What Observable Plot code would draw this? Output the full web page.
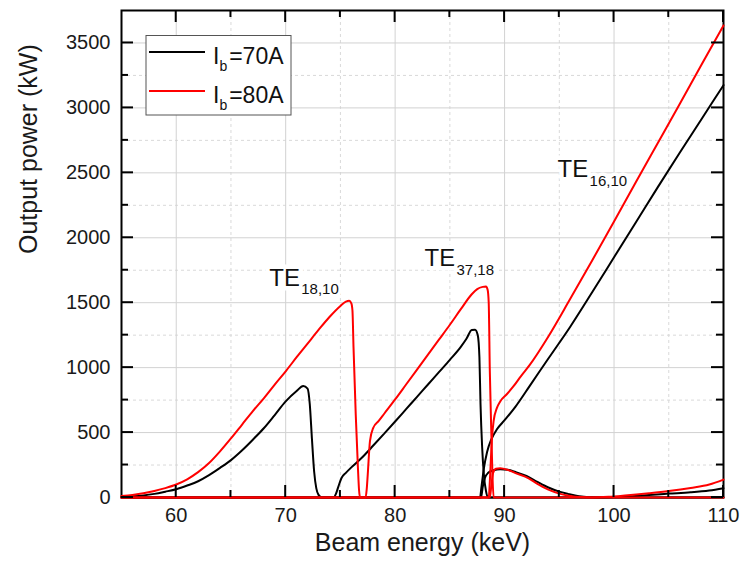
<!DOCTYPE html>
<html>
<head>
<meta charset="utf-8">
<script src="https://cdn.jsdelivr.net/npm/d3@7"></script>
<script src="https://cdn.jsdelivr.net/npm/@observablehq/plot@0.6"></script>
<style>
  html, body { margin: 0; padding: 0; background: #fff; }
  #chart { width: 740px; height: 566px; }
  svg { font-family: "Liberation Sans", Arial, sans-serif; }
</style>
</head>
<body>
<div id="chart"></div>
<script>
// ---------- data ----------
// Ib = 70 A : TE18,10 -> TE37,18 branch
const e70Main = [55,56,57,58,59,60,61,62,63,64,65,66,67,68,69,70,71,71.6,72.0,72.2,72.4,72.6,72.8,73.0,73.3,74.4,74.6,74.8,75.1,75.5,76,77,78,79,80,81,82,83,84,85,86,86.5,87.0,87.3,87.55,87.7,87.8,87.95,88.1,88.3,88.5,110];
const p70Main = [5,9,16,28,45,64,92,125,172,228,288,362,445,533,635,740,820,858,838,720,450,200,70,20,0,0,30,80,150,190,232,310,400,492,585,680,775,870,965,1060,1160,1220,1290,1292,1250,1080,720,387,183,50,0,0];
// Ib = 70 A : TE16,10 branch
const e70TE16 = [55,87.75,87.9,88.1,88.4,88.8,89.3,90,91,92.3,94,96,98,100,102,104,106,108,110];
const p70TE16 = [0,0,90,220,350,450,525,595,700,860,1070,1315,1580,1850,2120,2390,2655,2915,3175];
// Ib = 70 A : low-power branch after 88 keV
const e70Low = [55,87.85,88.0,88.2,88.5,89.0,89.6,90.3,91,92,93,94,95,95.8,96.8,97.7,98.5,100,102,103.2,105,107,108.7,110];
const p70Low = [0,0,80,150,190,210,218,213,196,166,120,77,45,28,10,2,0,3,12,20,30,40,54,72];

// Ib = 80 A : TE18,10 -> TE37,18 branch
const e80Main = [55,56,57,58,59,60,61,62,63,64,65,66,67,68,69,70,71,72,73,74,75,75.5,75.8,76.0,76.1,76.2,76.4,76.6,76.7,76.8,77.3,77.4,77.5,77.7,78.0,78.5,79,80,81,82,83,84,85,86,87,87.5,88.0,88.3,88.45,88.55,88.65,88.8,88.9,89.0,110];
const p80Main = [12,20,32,50,72,100,140,195,265,355,455,560,665,764,870,972,1080,1185,1290,1390,1475,1508,1515,1495,1440,1150,640,230,60,0,0,60,180,435,537,590,645,755,870,985,1100,1215,1330,1450,1565,1605,1622,1625,1600,1500,975,460,150,0,0];
// Ib = 80 A : TE16,10 branch
const e80TE16 = [55,88.55,88.65,88.75,88.85,89.0,89.3,89.6,90.2,90.8,91.5,92.3,94,96,98,100,102,104,106,108,110];
const p80TE16 = [0,0,120,300,460,590,690,740,795,855,935,1021,1240,1530,1825,2125,2430,2730,3030,3335,3635];
// Ib = 80 A : low-power branch after 88 keV
const e80Low = [55,88.65,88.8,88.95,89.2,89.6,90.3,91,92.2,93,94,95,96,97,98,99.5,101,103.2,105,107,108.7,110];
const p80Low = [0,0,100,190,222,225,212,188,148,105,60,30,12,3,0,5,15,33,50,74,100,138];

// axes
const xDomain = [55, 110];
const yDomain = [0, 3750];
const xMajor = [60, 70, 80, 90, 100, 110];
const xMinor = [65, 75, 85, 95, 105];
const yMajor = [0, 500, 1000, 1500, 2000, 2500, 3000, 3500];
const yMinor = [250, 750, 1250, 1750, 2250, 2750, 3250];
const xTitle = "Beam energy (keV)";
const yTitle = "Output power (kW)";

// legend
const legendMain = ["I", "I"];
const legendSub = ["b", "b"];
const legendRest = ["=70A", "=80A"];
const seriesKeys = ["70A", "80A"];

// mode annotations
const modeNames = ["TE", "TE", "TE"];
const modeSubs = ["18,10", "37,18", "16,10"];
const modeE = [68.5, 82.68, 94.84];
const modeP = [1632, 1779, 2466];

// ---------- build tables ----------
const curves = [
  {id: "70-main", current: "70A", E: e70Main, P: p70Main},
  {id: "70-te16", current: "70A", E: e70TE16, P: p70TE16},
  {id: "70-low", current: "70A", E: e70Low, P: p70Low},
  {id: "80-main", current: "80A", E: e80Main, P: p80Main},
  {id: "80-te16", current: "80A", E: e80TE16, P: p80TE16},
  {id: "80-low", current: "80A", E: e80Low, P: p80Low}
];
const rows = curves.flatMap(c => c.E.map((e, i) => ({E: e, P: c.P[i], id: c.id, current: c.current})));
const modes = modeNames.map((m, i) => ({name: m, sub: modeSubs[i], E: modeE[i], P: modeP[i]}));

// ---------- layout ----------
const W = 740, H = 566;
const mL = 121, mR = 17, mT = 10, mB = 69;
const majorLen = 12, minorLen = 7;
const font = "'Liberation Sans', Arial, sans-serif";
const colors = {"70A": "#000000", "80A": "#ff0000"};

const plot = Plot.plot({
  width: W, height: H,
  marginLeft: mL, marginRight: mR, marginTop: mT, marginBottom: mB,
  style: {fontFamily: font, background: "white"},
  x: {domain: xDomain},
  y: {domain: yDomain},
  marks: [
    // grid
    Plot.ruleX(xMinor, {stroke: "#d9d9d9", strokeWidth: 1, strokeDasharray: "3,3"}),
    Plot.ruleY(yMinor, {stroke: "#d9d9d9", strokeWidth: 1, strokeDasharray: "3,3"}),
    Plot.ruleX(xMajor.filter(v => v < xDomain[1]), {stroke: "#d2d2d2", strokeWidth: 1}),
    Plot.ruleY(yMajor.filter(v => v > yDomain[0]), {stroke: "#d2d2d2", strokeWidth: 1}),
    // frame
    Plot.frame({stroke: "black", strokeWidth: 2}),
    // tick labels
    Plot.axisX({ticks: xMajor, tickSize: 0, tickPadding: 10, fontSize: 20, label: null, tickFormat: d => `${d}`, fill: "#1a1a1a"}),
    Plot.axisY({ticks: yMajor, tickSize: 0, tickPadding: 11, fontSize: 20, label: null, tickFormat: d => `${d}`, fill: "#1a1a1a"}),
    // axis titles
    Plot.text([xTitle], {text: d => d, frameAnchor: "bottom", dy: 53, fontSize: 25, fill: "#1a1a1a"}),
    Plot.text([yTitle], {text: d => d, frameAnchor: "left", dx: -93, rotate: -90, fontSize: 25, fill: "#1a1a1a"}),
    // curves
    Plot.line(rows.filter(d => d.current === "70A"), {x: "E", y: "P", z: "id", stroke: colors["70A"], strokeWidth: 2, curve: "monotone-x"}),
    Plot.line(rows.filter(d => d.current === "80A"), {x: "E", y: "P", z: "id", stroke: colors["80A"], strokeWidth: 2, curve: "monotone-x"}),
    // mode annotations (white halo like the label boxes)
    Plot.text(modes, {x: "E", y: "P", text: "name", textAnchor: "start", lineAnchor: "bottom", fontSize: 24, fill: "#111", stroke: "white", strokeWidth: 9, strokeLinejoin: "round", paintOrder: "stroke"}),
    Plot.text(modes, {x: "E", y: "P", text: "sub", textAnchor: "start", lineAnchor: "bottom", dx: 32, dy: 8.5, fontSize: 15, fill: "#111", stroke: "white", strokeWidth: 7, strokeLinejoin: "round", paintOrder: "stroke"})
  ]
});

const svg = d3.select(plot);

// ---------- inward ticks on all four sides, placed with Plot's own scales ----------
const sx = plot.scale("x"), sy = plot.scale("y");
const x0 = sx.apply(xDomain[0]), x1 = sx.apply(xDomain[1]);
const y0 = sy.apply(yDomain[0]), y1 = sy.apply(yDomain[1]);
const tg = svg.append("g").attr("class", "ticks");
const xTicks = xMajor.map(v => [v, majorLen]).concat(xMinor.map(v => [v, minorLen]));
const yTicks = yMajor.map(v => [v, majorLen]).concat(yMinor.map(v => [v, minorLen]));
function tick(xa, ya, xb, yb) {
  tg.append("path").attr("d", `M${xa},${ya}L${xb},${yb}`)
    .attr("fill", "none").attr("stroke", "#000").attr("stroke-width", 2);
}
xTicks.forEach(([v, len]) => {
  const px = sx.apply(v);
  tick(px, y0, px, y0 - len);
  tick(px, y1, px, y1 + len);
});
yTicks.forEach(([v, len]) => {
  const py = sy.apply(v);
  tick(x0, py, x0 + len, py);
  tick(x1, py, x1 - len, py);
});

// ---------- legend ----------
const lg = svg.append("g").attr("class", "legend").attr("text-anchor", "start");
lg.append("rect")
  .attr("x", 146).attr("y", 35.5).attr("width", 145).attr("height", 79.5)
  .attr("fill", "white").attr("stroke", "#555").attr("stroke-width", 1);
seriesKeys.forEach((key, i) => {
  const yLine = 52 + i * 39;
  const yBase = 63.5 + i * 39;
  lg.append("line")
    .attr("x1", 149).attr("x2", 205).attr("y1", yLine).attr("y2", yLine)
    .attr("stroke", colors[key]).attr("stroke-width", 2);
  const t = lg.append("text").attr("x", 213).attr("y", yBase)
    .attr("text-anchor", "start").attr("font-family", font).attr("fill", "#111");
  t.append("tspan").attr("font-size", 23).text(legendMain[i]);
  t.append("tspan").attr("font-size", 14).attr("dy", 7).text(legendSub[i]);
  t.append("tspan").attr("font-size", 23).attr("dy", -7).attr("dx", 2).text(legendRest[i]);
});

document.getElementById("chart").appendChild(plot);
</script>
</body>
</html>
